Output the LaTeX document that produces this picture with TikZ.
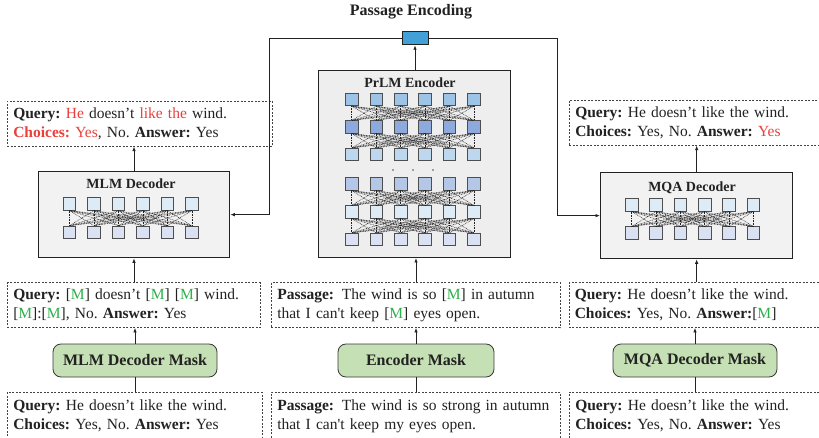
\documentclass[tikz,border=0pt]{standalone}
\usepackage{fontspec}
\setmainfont{Liberation Serif}
\newfontfamily\rawserif{Liberation Serif}
\usetikzlibrary{arrows.meta}
\frenchspacing

\definecolor{ink}{HTML}{222222}
\definecolor{hlred}{HTML}{E8413C}
\definecolor{hlgreen}{HTML}{2DB04B}
\definecolor{maskgreen}{HTML}{C5E0B4}
\definecolor{decgray}{HTML}{F2F2F2}
\definecolor{encgray}{HTML}{EEEEEE}
\definecolor{poolblue}{HTML}{41A1D6}
\definecolor{rowA}{HTML}{9DC3E6}
\definecolor{rowB}{HTML}{8EA9DB}
\definecolor{rowC}{HTML}{BDD7EE}
\definecolor{rowD}{HTML}{B4C7E7}
\definecolor{rowE}{HTML}{DDEBF7}
\definecolor{rowF}{HTML}{D9E1F2}

\newcommand{\hl}[1]{\textcolor{hlred}{#1}}
\newcommand{\mtok}{[\textcolor{hlgreen}{M}]}
\newcommand{\sq}{{\rawserif'}}

\begin{document}
\begin{tikzpicture}[x=1pt,y=-1pt,
  txtbox/.style={draw=ink!85, dash pattern=on 2pt off 1.5pt, line width=0.6pt,
    fill=white, anchor=north west, inner xsep=6pt, inner ysep=0pt,
    minimum height=45pt, align=left, text=ink,
    font=\fontsize{15.5}{19}\selectfont},
  maskbox/.style={draw=ink!90, line width=0.8pt, rounded corners=8pt,
    fill=maskgreen, minimum width=164pt, minimum height=33pt, inner sep=0pt,
    text=ink, font=\bfseries\fontsize{16}{19}\selectfont},
  modbox/.style={draw=ink, line width=1pt, fill=decgray, anchor=north west,
    inner sep=0pt},
  modtitle/.style={text=ink, font=\bfseries\fontsize{14}{16}\selectfont},
  cell/.style={draw=ink!80, line width=0.7pt, minimum size=12.5pt, inner sep=0pt},
  mesh/.style={dash pattern=on 0.8pt off 0.8pt, line width=0.5pt, draw=ink},
  arr/.style={-{Latex[length=4.5pt,width=3.5pt]}, line width=0.8pt, draw=ink},
  link/.style={line width=0.8pt, draw=ink}
]
\useasboundingbox (0,0) rectangle (819,438);

% ---------- title and pooled vector ----------
\node[text=ink, font=\bfseries\fontsize{16}{19}\selectfont] (title) at (411,12) {Passage Encoding};
\node[draw=ink, line width=0.8pt, fill=poolblue, minimum width=26pt, minimum height=13pt,
  inner sep=0pt] (pe) at (415,38.35) {};
\coordinate (lt) at (269,38.35);
\coordinate (rt) at (557,38.35);

% ---------- module boxes ----------
\node[modbox, minimum width=191.6pt, minimum height=86.3pt] (mlm) at (37.7,171) {};
\node[modbox, minimum width=192.3pt, minimum height=86.3pt] (mqa) at (600,172) {};
\node[modbox, fill=encgray, line width=1.3pt, minimum width=192pt, minimum height=186.7pt] (enc) at (318,70) {};

\node[modtitle] (mlmt) at (131,184) {MLM Decoder};
\node[modtitle] (mqat) at (692,188) {MQA Decoder};
\node[modtitle] (enct) at (410,82.7) {PrLM Encoder};

% ---------- encoder layers ----------
\foreach \r/\y/\c in {1/99.5/rowA, 2/127/rowB, 3/154.5/rowC, 4/184/rowD, 5/212/rowE, 6/239.5/rowF}{
  \foreach \i in {1,...,6}{
    \node[cell, fill=\c] (e\r-\i) at ({351.7+24.45*(\i-1)},\y) {};
  }
}
\foreach \a/\b in {1/2, 2/3, 4/5, 5/6}{
  \foreach \i in {1,...,6}{
    \foreach \j in {1,...,6}{
      \draw[mesh] (e\a-\i.south) -- (e\b-\j.north);
    }
  }
}
\foreach \x [count=\k] in {393,413,433}{
  \fill[ink!80] (\x,170) circle (0.8pt) coordinate (dot\k);
}

% ---------- decoder layers ----------
\foreach \i in {1,...,6}{
  \node[cell, fill=rowE] (l1-\i) at ({69.5+24.45*(\i-1)},204) {};
  \node[cell, fill=rowF] (l2-\i) at ({69.5+24.45*(\i-1)},232.3) {};
  \node[cell, fill=rowE] (q1-\i) at ({631.7+24.3*(\i-1)},205) {};
  \node[cell, fill=rowF] (q2-\i) at ({631.7+24.3*(\i-1)},233) {};
}
\foreach \i in {1,...,6}{
  \foreach \j in {1,...,6}{
    \draw[mesh] (l1-\i.south) -- (l2-\j.north);
    \draw[mesh] (q1-\i.south) -- (q2-\j.north);
  }
}

% ---------- prediction boxes ----------
\node[txtbox, text width=253pt] (qL) at (7,101)
  {\textbf{Query:} \hl{He} doesn’t \hl{like the} wind.\\
   \textbf{\hl{Choices:}} \hl{Yes}, No. \textbf{Answer:} Yes};
\node[txtbox, text width=240pt] (qR) at (569,100)
  {\textbf{Query:} He doesn’t like the wind.\\
   \textbf{Choices:} Yes, No. \textbf{Answer:} \hl{Yes}};

% ---------- masked inputs ----------
\node[txtbox, text width=241pt] (mmL) at (7,282.3)
  {\textbf{Query:} \mtok{} doesn’t \mtok{} \mtok{} wind.\\
   \mtok:\mtok, No. \textbf{Answer:} Yes};
\node[txtbox, text width=277pt] (mmC) at (271,282.3)
  {\textbf{Passage:}\hspace{0.5em}The wind is so \mtok{} in autumn\\
   that I can\sq t keep \mtok{} eyes open.};
\node[txtbox, text width=241pt] (mmR) at (568.5,282.3)
  {\textbf{Query:} He doesn’t like the wind.\\
   \textbf{Choices:} Yes, No. \textbf{Answer:}\mtok};

% ---------- mask operators ----------
\node[maskbox] (mL) at (135,360.5) {MLM Decoder Mask};
\node[maskbox, minimum width=156pt] (mC) at (416,360.5) {Encoder Mask};
\node[maskbox] (mR) at (695,360.5) {MQA Decoder Mask};

% ---------- raw inputs ----------
\node[txtbox, text width=242.7pt, minimum height=47pt] (bL) at (7,392)
  {\textbf{Query:} He doesn’t like the wind.\\
   \textbf{Choices:} Yes, No. \textbf{Answer:} Yes};
\node[txtbox, text width=277pt, minimum height=47pt] (bC) at (271,392)
  {\textbf{Passage:}\hspace{0.5em}The wind is so strong in autumn\\
   that I can\sq t keep my eyes open.};
\node[txtbox, text width=240pt, minimum height=47pt] (bR) at (569,392)
  {\textbf{Query:} He doesn’t like the wind.\\
   \textbf{Choices:} Yes, No. \textbf{Answer:} Yes};

% ---------- connectors ----------
\draw[link] (mL.south) -- (mL.south |- bL.north);
\draw[link] (mC.south) -- (mC.south |- bC.north);
\draw[link] (mR.south) -- (mR.south |- bR.north);
\draw[arr] (mL.north) -- (mL.north |- mmL.south);
\draw[arr] (mC.north) -- (mC.north |- mmC.south);
\draw[arr] (mR.north) -- (mR.north |- mmR.south);
\draw[arr] (mlm.south |- mmL.north) -- (mlm.south);
\draw[arr] (mC.north |- mmC.north) -- (mC.north |- enc.south);
\draw[arr] (mqa.south |- mmR.north) -- (mqa.south);
\draw[arr] (mlm.north) -- (mlm.north |- qL.south);
\draw[arr] (mqa.north) -- (mqa.north |- qR.south);
\draw[arr] (pe.south |- enc.north) -- (pe.south);
\draw[arr] (pe.west) -- (lt) |- (mlm.east);
\draw[arr] (pe.east) -- (rt) |- (mqa.west);
\end{tikzpicture}
\end{document}
